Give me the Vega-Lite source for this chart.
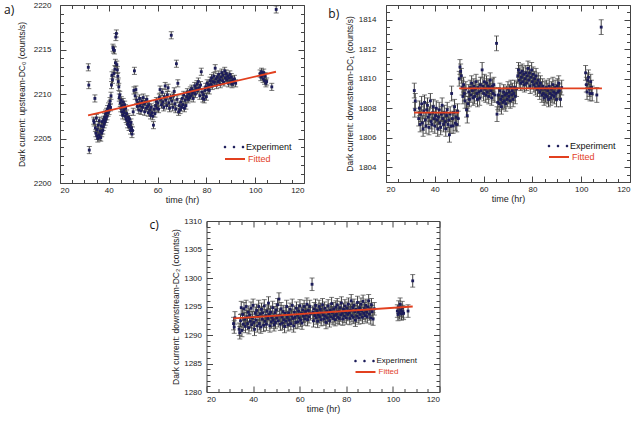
{
"$schema": "https://vega.github.io/schema/vega-lite/v6.json",
"padding": {"left": 3, "top": 0, "right": 0, "bottom": 0},
"background": "white",
"config": {
  "view": {"stroke": "#444", "strokeWidth": 1},
  "axis": {"labelFont": "Liberation Sans", "titleFont": "Liberation Sans", "labelFontSize": 8, "titleFontSize": 8.5, "titleFontWeight": "normal", "labelColor": "#222", "titleColor": "#222", "tickColor": "#444", "tickWidth": 1, "domain": false, "grid": false, "labelPadding": 3, "titlePadding": 3},
  "axisBottom": {"titleFontSize": 9, "titlePadding": 1},
  "legend": {"labelFont": "Liberation Sans", "labelFontSize": 9, "title": null, "orient": "none", "padding": 0, "symbolSize": 400, "labelOffset": 2},
  "title": {"font": "Open Sans", "fontSize": 12, "fontWeight": "normal", "color": "#111"}
},
"datasets": {
"a": [
{"t":31.6,"v":2213.0,"e":0.4},{"t":31.8,"v":2211.0,"e":0.4},{"t":32.0,"v":2203.7,"e":0.4},{"t":33.8,"v":2207.0,"e":0.4},{"t":34.0,"v":2206.8,"e":0.4},{"t":34.3,"v":2209.5,"e":0.4},{"t":34.5,"v":2206.2,"e":0.4},{"t":34.7,"v":2205.6,"e":0.4},{"t":34.9,"v":2207.3,"e":0.4},{"t":35.1,"v":2205.3,"e":0.4},{"t":35.3,"v":2206.0,"e":0.4},{"t":35.5,"v":2205.0,"e":0.4},{"t":35.7,"v":2206.5,"e":0.4},{"t":35.9,"v":2205.4,"e":0.4},{"t":36.1,"v":2207.0,"e":0.4},{"t":36.3,"v":2205.2,"e":0.4},{"t":36.5,"v":2205.8,"e":0.4},{"t":36.7,"v":2205.1,"e":0.4},{"t":36.9,"v":2206.4,"e":0.4},{"t":37.1,"v":2205.6,"e":0.4},{"t":37.3,"v":2206.9,"e":0.4},{"t":37.5,"v":2205.9,"e":0.4},{"t":37.7,"v":2206.3,"e":0.4},{"t":37.9,"v":2207.1,"e":0.4},{"t":38.1,"v":2206.6,"e":0.4},{"t":38.3,"v":2207.4,"e":0.4},{"t":38.5,"v":2206.9,"e":0.4},{"t":38.7,"v":2207.8,"e":0.4},{"t":38.9,"v":2207.2,"e":0.4},{"t":39.1,"v":2208.0,"e":0.4},{"t":39.3,"v":2207.5,"e":0.4},{"t":39.5,"v":2208.3,"e":0.4},{"t":39.7,"v":2207.9,"e":0.4},{"t":39.9,"v":2208.6,"e":0.4},{"t":40.1,"v":2208.1,"e":0.4},{"t":40.3,"v":2208.8,"e":0.4},{"t":40.5,"v":2209.2,"e":0.4},{"t":40.7,"v":2208.5,"e":0.4},{"t":40.9,"v":2209.8,"e":0.4},{"t":41.1,"v":2211.0,"e":0.4},{"t":41.3,"v":2212.1,"e":0.4},{"t":41.5,"v":2211.6,"e":0.4},{"t":41.7,"v":2215.2,"e":0.4},{"t":41.9,"v":2215.0,"e":0.4},{"t":42.1,"v":2212.3,"e":0.4},{"t":42.3,"v":2214.9,"e":0.4},{"t":42.5,"v":2212.8,"e":0.4},{"t":42.7,"v":2213.5,"e":0.4},{"t":42.9,"v":2216.4,"e":0.4},{"t":43.1,"v":2216.8,"e":0.4},{"t":43.3,"v":2213.3,"e":0.4},{"t":43.5,"v":2212.7,"e":0.4},{"t":43.7,"v":2212.0,"e":0.4},{"t":43.9,"v":2211.4,"e":0.4},{"t":44.1,"v":2210.8,"e":0.4},{"t":44.3,"v":2209.6,"e":0.4},{"t":44.5,"v":2209.9,"e":0.4},{"t":44.7,"v":2209.0,"e":0.4},{"t":44.9,"v":2208.4,"e":0.4},{"t":45.1,"v":2209.3,"e":0.4},{"t":45.3,"v":2208.0,"e":0.4},{"t":45.5,"v":2208.7,"e":0.4},{"t":45.7,"v":2207.6,"e":0.4},{"t":45.9,"v":2209.1,"e":0.4},{"t":46.1,"v":2208.2,"e":0.4},{"t":46.3,"v":2207.9,"e":0.4},{"t":46.5,"v":2208.8,"e":0.4},{"t":46.7,"v":2207.5,"e":0.4},{"t":46.9,"v":2208.4,"e":0.4},{"t":47.1,"v":2207.2,"e":0.4},{"t":47.3,"v":2207.8,"e":0.4},{"t":47.5,"v":2207.0,"e":0.4},{"t":47.7,"v":2206.6,"e":0.4},{"t":47.9,"v":2207.4,"e":0.4},{"t":48.1,"v":2206.9,"e":0.4},{"t":48.3,"v":2206.3,"e":0.4},{"t":48.5,"v":2207.2,"e":0.4},{"t":48.7,"v":2206.5,"e":0.4},{"t":48.9,"v":2205.9,"e":0.4},{"t":49.1,"v":2206.8,"e":0.4},{"t":49.3,"v":2206.2,"e":0.4},{"t":49.5,"v":2205.5,"e":0.4},{"t":49.7,"v":2205.9,"e":0.4},{"t":50.0,"v":2208.0,"e":0.4},{"t":50.3,"v":2210.4,"e":0.4},{"t":50.5,"v":2212.6,"e":0.4},{"t":50.8,"v":2209.8,"e":0.4},{"t":51.1,"v":2210.5,"e":0.4},{"t":51.4,"v":2209.3,"e":0.4},{"t":51.7,"v":2208.6,"e":0.4},{"t":52.0,"v":2209.0,"e":0.4},{"t":52.3,"v":2208.2,"e":0.4},{"t":52.6,"v":2209.5,"e":0.4},{"t":52.9,"v":2208.7,"e":0.4},{"t":53.2,"v":2208.1,"e":0.4},{"t":53.5,"v":2209.2,"e":0.4},{"t":53.8,"v":2208.5,"e":0.4},{"t":54.1,"v":2209.6,"e":0.4},{"t":54.4,"v":2208.9,"e":0.4},{"t":54.7,"v":2208.0,"e":0.4},{"t":55.0,"v":2209.1,"e":0.4},{"t":55.3,"v":2208.4,"e":0.4},{"t":55.6,"v":2209.4,"e":0.4},{"t":55.9,"v":2208.6,"e":0.4},{"t":56.2,"v":2207.9,"e":0.4},{"t":56.5,"v":2208.8,"e":0.4},{"t":56.8,"v":2208.2,"e":0.4},{"t":57.1,"v":2207.6,"e":0.4},{"t":57.4,"v":2208.5,"e":0.4},{"t":57.7,"v":2207.9,"e":0.4},{"t":58.0,"v":2207.5,"e":0.4},{"t":58.3,"v":2206.5,"e":0.4},{"t":58.6,"v":2208.3,"e":0.4},{"t":58.9,"v":2207.8,"e":0.4},{"t":59.2,"v":2208.7,"e":0.4},{"t":59.5,"v":2209.2,"e":0.4},{"t":59.8,"v":2208.4,"e":0.4},{"t":60.1,"v":2209.0,"e":0.4},{"t":60.4,"v":2208.3,"e":0.4},{"t":60.7,"v":2209.6,"e":0.4},{"t":61.0,"v":2210.5,"e":0.4},{"t":61.3,"v":2209.4,"e":0.4},{"t":61.6,"v":2208.8,"e":0.4},{"t":61.9,"v":2210.2,"e":0.4},{"t":62.2,"v":2209.1,"e":0.4},{"t":62.5,"v":2208.5,"e":0.4},{"t":62.8,"v":2209.7,"e":0.4},{"t":63.1,"v":2210.9,"e":0.4},{"t":63.4,"v":2209.3,"e":0.4},{"t":63.7,"v":2208.7,"e":0.4},{"t":64.0,"v":2209.9,"e":0.4},{"t":64.3,"v":2210.7,"e":0.4},{"t":64.6,"v":2209.0,"e":0.4},{"t":64.9,"v":2208.4,"e":0.4},{"t":65.3,"v":2209.6,"e":0.4},{"t":65.6,"v":2216.6,"e":0.4},{"t":65.9,"v":2209.2,"e":0.4},{"t":66.2,"v":2208.5,"e":0.4},{"t":66.5,"v":2209.8,"e":0.4},{"t":66.8,"v":2210.3,"e":0.4},{"t":67.1,"v":2208.9,"e":0.4},{"t":67.4,"v":2208.3,"e":0.4},{"t":67.7,"v":2213.4,"e":0.4},{"t":68.0,"v":2209.4,"e":0.4},{"t":68.3,"v":2211.2,"e":0.4},{"t":68.6,"v":2208.0,"e":0.4},{"t":68.9,"v":2208.7,"e":0.4},{"t":69.2,"v":2208.2,"e":0.4},{"t":69.5,"v":2209.1,"e":0.4},{"t":69.8,"v":2208.5,"e":0.4},{"t":70.1,"v":2209.5,"e":0.4},{"t":70.4,"v":2208.8,"e":0.4},{"t":70.7,"v":2209.9,"e":0.4},{"t":71.0,"v":2208.4,"e":0.4},{"t":71.3,"v":2209.3,"e":0.4},{"t":71.6,"v":2208.7,"e":0.4},{"t":71.9,"v":2209.7,"e":0.4},{"t":72.2,"v":2210.2,"e":0.4},{"t":72.5,"v":2209.4,"e":0.4},{"t":72.8,"v":2210.0,"e":0.4},{"t":73.1,"v":2209.6,"e":0.4},{"t":73.4,"v":2210.4,"e":0.4},{"t":73.7,"v":2209.8,"e":0.4},{"t":74.0,"v":2210.6,"e":0.4},{"t":74.3,"v":2210.1,"e":0.4},{"t":74.6,"v":2209.5,"e":0.4},{"t":74.9,"v":2210.3,"e":0.4},{"t":75.2,"v":2210.9,"e":0.4},{"t":75.5,"v":2210.0,"e":0.4},{"t":75.8,"v":2210.6,"e":0.4},{"t":76.1,"v":2211.1,"e":0.4},{"t":76.4,"v":2210.4,"e":0.4},{"t":76.7,"v":2211.4,"e":0.4},{"t":77.0,"v":2210.7,"e":0.4},{"t":77.3,"v":2209.8,"e":0.4},{"t":77.6,"v":2211.0,"e":0.4},{"t":77.9,"v":2212.5,"e":0.4},{"t":78.2,"v":2210.2,"e":0.4},{"t":78.5,"v":2209.5,"e":0.4},{"t":78.8,"v":2209.9,"e":0.4},{"t":79.1,"v":2209.4,"e":0.4},{"t":79.4,"v":2210.4,"e":0.4},{"t":79.7,"v":2210.8,"e":0.4},{"t":80.0,"v":2209.7,"e":0.4},{"t":80.3,"v":2211.2,"e":0.4},{"t":80.6,"v":2210.5,"e":0.4},{"t":80.9,"v":2211.0,"e":0.4},{"t":81.2,"v":2210.4,"e":0.4},{"t":81.5,"v":2211.5,"e":0.4},{"t":81.8,"v":2211.1,"e":0.4},{"t":82.1,"v":2211.8,"e":0.4},{"t":82.4,"v":2210.9,"e":0.4},{"t":82.7,"v":2211.4,"e":0.4},{"t":83.0,"v":2212.0,"e":0.4},{"t":83.3,"v":2211.3,"e":0.4},{"t":83.6,"v":2212.9,"e":0.4},{"t":83.9,"v":2211.7,"e":0.4},{"t":84.2,"v":2211.0,"e":0.4},{"t":84.5,"v":2211.9,"e":0.4},{"t":84.8,"v":2211.4,"e":0.4},{"t":85.1,"v":2212.2,"e":0.4},{"t":85.4,"v":2211.6,"e":0.4},{"t":85.7,"v":2211.1,"e":0.4},{"t":86.0,"v":2211.9,"e":0.4},{"t":86.3,"v":2212.4,"e":0.4},{"t":86.6,"v":2211.5,"e":0.4},{"t":86.9,"v":2212.1,"e":0.4},{"t":87.2,"v":2211.3,"e":0.4},{"t":87.5,"v":2212.6,"e":0.4},{"t":87.8,"v":2211.8,"e":0.4},{"t":88.1,"v":2212.3,"e":0.4},{"t":88.4,"v":2211.6,"e":0.4},{"t":88.7,"v":2212.0,"e":0.4},{"t":89.0,"v":2211.2,"e":0.4},{"t":89.3,"v":2211.8,"e":0.4},{"t":89.6,"v":2212.2,"e":0.4},{"t":89.9,"v":2211.4,"e":0.4},{"t":90.2,"v":2211.9,"e":0.4},{"t":90.5,"v":2211.1,"e":0.4},{"t":90.8,"v":2211.6,"e":0.4},{"t":91.1,"v":2211.3,"e":0.4},{"t":91.5,"v":2211.7,"e":0.4},{"t":92.0,"v":2211.2,"e":0.4},{"t":102.0,"v":2212.3,"e":0.4},{"t":102.3,"v":2211.9,"e":0.4},{"t":102.6,"v":2212.5,"e":0.4},{"t":102.9,"v":2212.1,"e":0.4},{"t":103.2,"v":2211.7,"e":0.4},{"t":103.5,"v":2212.4,"e":0.4},{"t":103.8,"v":2211.5,"e":0.4},{"t":104.1,"v":2212.0,"e":0.4},{"t":104.4,"v":2211.2,"e":0.4},{"t":104.7,"v":2211.4,"e":0.4},{"t":106.8,"v":2210.8,"e":0.4},{"t":108.6,"v":2219.5,"e":0.4}
],
"b": [
{"t":31.6,"v":1809.2,"e":0.5},{"t":31.8,"v":1807.9,"e":0.5},{"t":32.0,"v":1808.5,"e":0.5},{"t":33.4,"v":1807.3,"e":0.5},{"t":33.7,"v":1808.0,"e":0.5},{"t":34.0,"v":1806.9,"e":0.5},{"t":34.3,"v":1807.6,"e":0.5},{"t":34.6,"v":1808.3,"e":0.5},{"t":34.9,"v":1807.0,"e":0.5},{"t":35.2,"v":1806.6,"e":0.5},{"t":35.5,"v":1807.8,"e":0.5},{"t":35.8,"v":1808.4,"e":0.5},{"t":36.1,"v":1807.2,"e":0.5},{"t":36.4,"v":1806.8,"e":0.5},{"t":36.7,"v":1807.9,"e":0.5},{"t":37.0,"v":1808.2,"e":0.5},{"t":37.3,"v":1807.4,"e":0.5},{"t":37.6,"v":1806.7,"e":0.5},{"t":37.9,"v":1807.6,"e":0.5},{"t":38.2,"v":1808.5,"e":0.5},{"t":38.5,"v":1807.1,"e":0.5},{"t":38.8,"v":1806.9,"e":0.5},{"t":39.1,"v":1807.7,"e":0.5},{"t":39.4,"v":1808.1,"e":0.5},{"t":39.7,"v":1807.3,"e":0.5},{"t":40.0,"v":1806.8,"e":0.5},{"t":40.3,"v":1807.5,"e":0.5},{"t":40.6,"v":1808.0,"e":0.5},{"t":40.9,"v":1807.2,"e":0.5},{"t":41.2,"v":1806.6,"e":0.5},{"t":41.5,"v":1807.4,"e":0.5},{"t":41.8,"v":1807.9,"e":0.5},{"t":42.1,"v":1807.0,"e":0.5},{"t":42.4,"v":1806.7,"e":0.5},{"t":42.7,"v":1807.6,"e":0.5},{"t":43.0,"v":1808.2,"e":0.5},{"t":43.3,"v":1807.3,"e":0.5},{"t":43.6,"v":1806.9,"e":0.5},{"t":43.9,"v":1807.7,"e":0.5},{"t":44.2,"v":1807.1,"e":0.5},{"t":44.5,"v":1806.6,"e":0.5},{"t":44.8,"v":1807.5,"e":0.5},{"t":45.1,"v":1807.9,"e":0.5},{"t":45.4,"v":1806.9,"e":0.5},{"t":45.7,"v":1807.2,"e":0.5},{"t":46.0,"v":1806.2,"e":0.5},{"t":46.3,"v":1807.6,"e":0.5},{"t":46.6,"v":1806.8,"e":0.5},{"t":46.9,"v":1809.0,"e":0.5},{"t":47.2,"v":1807.3,"e":0.5},{"t":47.5,"v":1806.8,"e":0.5},{"t":47.8,"v":1807.7,"e":0.5},{"t":48.1,"v":1808.1,"e":0.5},{"t":48.4,"v":1807.0,"e":0.5},{"t":48.7,"v":1807.4,"e":0.5},{"t":49.0,"v":1806.9,"e":0.5},{"t":49.3,"v":1807.8,"e":0.5},{"t":49.6,"v":1807.3,"e":0.5},{"t":50.0,"v":1810.0,"e":0.5},{"t":50.3,"v":1810.8,"e":0.5},{"t":50.6,"v":1810.5,"e":0.5},{"t":50.9,"v":1810.2,"e":0.5},{"t":51.2,"v":1809.4,"e":0.5},{"t":51.5,"v":1808.8,"e":0.5},{"t":51.8,"v":1809.6,"e":0.5},{"t":52.1,"v":1809.0,"e":0.5},{"t":52.4,"v":1808.5,"e":0.5},{"t":52.7,"v":1809.3,"e":0.5},{"t":53.0,"v":1807.9,"e":0.5},{"t":53.3,"v":1807.5,"e":0.5},{"t":53.6,"v":1808.3,"e":0.5},{"t":53.9,"v":1809.1,"e":0.5},{"t":54.2,"v":1808.6,"e":0.5},{"t":54.5,"v":1809.4,"e":0.5},{"t":54.8,"v":1808.9,"e":0.5},{"t":55.1,"v":1809.7,"e":0.5},{"t":55.4,"v":1809.2,"e":0.5},{"t":55.7,"v":1808.7,"e":0.5},{"t":56.0,"v":1809.5,"e":0.5},{"t":56.3,"v":1808.8,"e":0.5},{"t":56.6,"v":1809.3,"e":0.5},{"t":56.9,"v":1809.8,"e":0.5},{"t":57.2,"v":1809.0,"e":0.5},{"t":57.5,"v":1808.6,"e":0.5},{"t":57.8,"v":1809.4,"e":0.5},{"t":58.1,"v":1809.1,"e":0.5},{"t":58.4,"v":1808.7,"e":0.5},{"t":58.7,"v":1809.6,"e":0.5},{"t":59.0,"v":1809.2,"e":0.5},{"t":59.4,"v":1810.6,"e":0.5},{"t":59.7,"v":1809.5,"e":0.5},{"t":60.0,"v":1809.0,"e":0.5},{"t":60.3,"v":1809.8,"e":0.5},{"t":60.6,"v":1809.3,"e":0.5},{"t":60.9,"v":1808.9,"e":0.5},{"t":61.2,"v":1809.7,"e":0.5},{"t":61.5,"v":1809.1,"e":0.5},{"t":61.8,"v":1809.5,"e":0.5},{"t":62.1,"v":1808.8,"e":0.5},{"t":62.4,"v":1809.4,"e":0.5},{"t":62.7,"v":1809.9,"e":0.5},{"t":63.0,"v":1809.2,"e":0.5},{"t":63.3,"v":1808.7,"e":0.5},{"t":63.6,"v":1809.5,"e":0.5},{"t":63.9,"v":1809.0,"e":0.5},{"t":64.2,"v":1809.6,"e":0.5},{"t":64.6,"v":1808.9,"e":0.5},{"t":65.3,"v":1812.4,"e":0.5},{"t":65.5,"v":1807.6,"e":0.5},{"t":65.8,"v":1808.4,"e":0.5},{"t":66.1,"v":1808.9,"e":0.5},{"t":66.4,"v":1808.3,"e":0.5},{"t":66.7,"v":1809.2,"e":0.5},{"t":67.0,"v":1808.6,"e":0.5},{"t":67.3,"v":1808.1,"e":0.5},{"t":67.6,"v":1808.8,"e":0.5},{"t":67.9,"v":1808.4,"e":0.5},{"t":68.2,"v":1809.1,"e":0.5},{"t":68.5,"v":1808.5,"e":0.5},{"t":68.8,"v":1808.9,"e":0.5},{"t":69.1,"v":1808.3,"e":0.5},{"t":69.4,"v":1809.0,"e":0.5},{"t":69.7,"v":1808.6,"e":0.5},{"t":70.0,"v":1809.3,"e":0.5},{"t":70.3,"v":1808.8,"e":0.5},{"t":70.6,"v":1809.1,"e":0.5},{"t":70.9,"v":1808.5,"e":0.5},{"t":71.2,"v":1809.4,"e":0.5},{"t":71.5,"v":1808.9,"e":0.5},{"t":71.8,"v":1809.2,"e":0.5},{"t":72.1,"v":1808.6,"e":0.5},{"t":72.4,"v":1809.0,"e":0.5},{"t":72.7,"v":1809.4,"e":0.5},{"t":73.0,"v":1808.8,"e":0.5},{"t":73.5,"v":1809.3,"e":0.5},{"t":74.0,"v":1810.2,"e":0.5},{"t":74.3,"v":1810.6,"e":0.5},{"t":74.6,"v":1809.9,"e":0.5},{"t":74.9,"v":1810.4,"e":0.5},{"t":75.2,"v":1809.7,"e":0.5},{"t":75.5,"v":1810.1,"e":0.5},{"t":75.8,"v":1810.5,"e":0.5},{"t":76.1,"v":1809.8,"e":0.5},{"t":76.4,"v":1810.3,"e":0.5},{"t":76.7,"v":1809.6,"e":0.5},{"t":77.0,"v":1810.0,"e":0.5},{"t":77.3,"v":1810.4,"e":0.5},{"t":77.6,"v":1809.7,"e":0.5},{"t":77.9,"v":1810.2,"e":0.5},{"t":78.2,"v":1810.7,"e":0.5},{"t":78.5,"v":1809.9,"e":0.5},{"t":78.8,"v":1810.4,"e":0.5},{"t":79.1,"v":1809.5,"e":0.5},{"t":79.4,"v":1810.1,"e":0.5},{"t":79.7,"v":1810.6,"e":0.5},{"t":80.0,"v":1809.8,"e":0.5},{"t":80.3,"v":1810.3,"e":0.5},{"t":80.6,"v":1809.6,"e":0.5},{"t":80.9,"v":1810.0,"e":0.5},{"t":81.2,"v":1809.4,"e":0.5},{"t":81.5,"v":1810.2,"e":0.5},{"t":81.8,"v":1809.7,"e":0.5},{"t":82.1,"v":1809.3,"e":0.5},{"t":82.4,"v":1809.9,"e":0.5},{"t":82.7,"v":1809.5,"e":0.5},{"t":83.0,"v":1809.1,"e":0.5},{"t":83.3,"v":1809.7,"e":0.5},{"t":83.6,"v":1809.3,"e":0.5},{"t":83.9,"v":1808.9,"e":0.5},{"t":84.2,"v":1809.5,"e":0.5},{"t":84.5,"v":1809.0,"e":0.5},{"t":84.8,"v":1808.7,"e":0.5},{"t":85.1,"v":1809.3,"e":0.5},{"t":85.4,"v":1808.9,"e":0.5},{"t":85.7,"v":1809.4,"e":0.5},{"t":86.0,"v":1808.8,"e":0.5},{"t":86.3,"v":1809.2,"e":0.5},{"t":86.6,"v":1808.6,"e":0.5},{"t":86.9,"v":1809.5,"e":0.5},{"t":87.2,"v":1809.0,"e":0.5},{"t":87.5,"v":1808.7,"e":0.5},{"t":87.8,"v":1809.3,"e":0.5},{"t":88.1,"v":1808.9,"e":0.5},{"t":88.4,"v":1809.6,"e":0.5},{"t":88.7,"v":1809.1,"e":0.5},{"t":89.0,"v":1808.8,"e":0.5},{"t":89.3,"v":1809.4,"e":0.5},{"t":89.6,"v":1809.0,"e":0.5},{"t":89.9,"v":1808.6,"e":0.5},{"t":90.2,"v":1809.5,"e":0.5},{"t":90.5,"v":1809.1,"e":0.5},{"t":90.8,"v":1809.7,"e":0.5},{"t":91.1,"v":1809.2,"e":0.5},{"t":91.5,"v":1808.6,"e":0.5},{"t":92.0,"v":1809.4,"e":0.5},{"t":101.8,"v":1810.4,"e":0.5},{"t":102.1,"v":1809.6,"e":0.5},{"t":102.4,"v":1809.1,"e":0.5},{"t":102.7,"v":1809.9,"e":0.5},{"t":103.0,"v":1810.1,"e":0.5},{"t":103.3,"v":1809.3,"e":0.5},{"t":103.6,"v":1809.0,"e":0.5},{"t":103.9,"v":1809.8,"e":0.5},{"t":104.2,"v":1809.4,"e":0.5},{"t":104.5,"v":1809.0,"e":0.5},{"t":106.4,"v":1808.9,"e":0.5},{"t":108.2,"v":1813.5,"e":0.5}
],
"c": [
{"t":31.6,"v":1292.0,"e":1.1},{"t":31.9,"v":1291.4,"e":1.1},{"t":32.2,"v":1293.0,"e":1.1},{"t":34.0,"v":1291.0,"e":1.1},{"t":34.3,"v":1290.4,"e":1.1},{"t":34.6,"v":1292.5,"e":1.1},{"t":34.9,"v":1294.8,"e":1.1},{"t":35.2,"v":1290.8,"e":1.1},{"t":35.5,"v":1293.6,"e":1.1},{"t":35.8,"v":1291.9,"e":1.1},{"t":36.1,"v":1294.6,"e":1.1},{"t":36.4,"v":1292.8,"e":1.1},{"t":36.7,"v":1291.5,"e":1.1},{"t":37.0,"v":1295.0,"e":1.1},{"t":37.3,"v":1293.2,"e":1.1},{"t":37.6,"v":1292.0,"e":1.1},{"t":37.9,"v":1294.0,"e":1.1},{"t":38.2,"v":1291.3,"e":1.1},{"t":38.5,"v":1293.5,"e":1.1},{"t":38.8,"v":1292.4,"e":1.1},{"t":39.1,"v":1294.7,"e":1.1},{"t":39.4,"v":1291.8,"e":1.1},{"t":39.7,"v":1293.0,"e":1.1},{"t":40.0,"v":1295.2,"e":1.1},{"t":40.3,"v":1292.2,"e":1.1},{"t":40.6,"v":1291.0,"e":1.1},{"t":40.9,"v":1293.8,"e":1.1},{"t":41.2,"v":1292.6,"e":1.1},{"t":41.5,"v":1294.3,"e":1.1},{"t":41.8,"v":1291.6,"e":1.1},{"t":42.1,"v":1293.3,"e":1.1},{"t":42.4,"v":1295.0,"e":1.1},{"t":42.7,"v":1292.0,"e":1.1},{"t":43.0,"v":1293.7,"e":1.1},{"t":43.3,"v":1291.4,"e":1.1},{"t":43.6,"v":1294.5,"e":1.1},{"t":43.9,"v":1292.8,"e":1.1},{"t":44.2,"v":1293.9,"e":1.1},{"t":44.5,"v":1291.7,"e":1.1},{"t":44.8,"v":1295.1,"e":1.1},{"t":45.1,"v":1292.4,"e":1.1},{"t":45.4,"v":1293.4,"e":1.1},{"t":45.7,"v":1291.9,"e":1.1},{"t":46.0,"v":1294.2,"e":1.1},{"t":46.3,"v":1292.9,"e":1.1},{"t":46.6,"v":1295.6,"e":1.1},{"t":46.9,"v":1293.6,"e":1.1},{"t":47.2,"v":1291.6,"e":1.1},{"t":47.5,"v":1294.0,"e":1.1},{"t":47.8,"v":1292.3,"e":1.1},{"t":48.1,"v":1293.1,"e":1.1},{"t":48.4,"v":1294.8,"e":1.1},{"t":48.7,"v":1292.6,"e":1.1},{"t":49.0,"v":1291.8,"e":1.1},{"t":49.3,"v":1293.9,"e":1.1},{"t":49.6,"v":1292.2,"e":1.1},{"t":49.9,"v":1294.4,"e":1.1},{"t":50.2,"v":1293.0,"e":1.1},{"t":50.5,"v":1295.3,"e":1.1},{"t":50.8,"v":1292.5,"e":1.1},{"t":51.1,"v":1296.3,"e":1.1},{"t":51.4,"v":1293.5,"e":1.1},{"t":51.7,"v":1291.9,"e":1.1},{"t":52.0,"v":1294.6,"e":1.1},{"t":52.3,"v":1293.2,"e":1.1},{"t":52.6,"v":1292.1,"e":1.1},{"t":52.9,"v":1294.1,"e":1.1},{"t":53.2,"v":1292.7,"e":1.1},{"t":53.5,"v":1291.5,"e":1.1},{"t":53.8,"v":1293.8,"e":1.1},{"t":54.1,"v":1292.4,"e":1.1},{"t":54.4,"v":1295.0,"e":1.1},{"t":54.7,"v":1293.1,"e":1.1},{"t":55.0,"v":1291.8,"e":1.1},{"t":55.3,"v":1293.9,"e":1.1},{"t":55.6,"v":1292.6,"e":1.1},{"t":55.9,"v":1294.5,"e":1.1},{"t":56.2,"v":1292.0,"e":1.1},{"t":56.5,"v":1293.4,"e":1.1},{"t":56.8,"v":1295.2,"e":1.1},{"t":57.1,"v":1292.9,"e":1.1},{"t":57.4,"v":1291.6,"e":1.1},{"t":57.7,"v":1294.0,"e":1.1},{"t":58.0,"v":1293.1,"e":1.1},{"t":58.3,"v":1292.2,"e":1.1},{"t":58.6,"v":1294.7,"e":1.1},{"t":58.9,"v":1293.5,"e":1.1},{"t":59.2,"v":1292.3,"e":1.1},{"t":59.5,"v":1294.2,"e":1.1},{"t":59.8,"v":1293.0,"e":1.1},{"t":60.1,"v":1295.1,"e":1.1},{"t":60.4,"v":1292.6,"e":1.1},{"t":60.7,"v":1293.8,"e":1.1},{"t":61.0,"v":1292.1,"e":1.1},{"t":61.3,"v":1294.4,"e":1.1},{"t":61.6,"v":1293.3,"e":1.1},{"t":61.9,"v":1295.0,"e":1.1},{"t":62.2,"v":1292.8,"e":1.1},{"t":62.5,"v":1294.1,"e":1.1},{"t":62.8,"v":1293.5,"e":1.1},{"t":63.1,"v":1295.4,"e":1.1},{"t":63.4,"v":1292.7,"e":1.1},{"t":63.7,"v":1294.3,"e":1.1},{"t":64.0,"v":1293.2,"e":1.1},{"t":64.3,"v":1295.0,"e":1.1},{"t":64.6,"v":1293.7,"e":1.1},{"t":65.3,"v":1298.9,"e":1.1},{"t":65.6,"v":1294.0,"e":1.1},{"t":65.9,"v":1292.5,"e":1.1},{"t":66.2,"v":1294.6,"e":1.1},{"t":66.5,"v":1293.4,"e":1.1},{"t":66.8,"v":1295.2,"e":1.1},{"t":67.1,"v":1293.0,"e":1.1},{"t":67.4,"v":1294.3,"e":1.1},{"t":67.7,"v":1292.4,"e":1.1},{"t":68.0,"v":1293.6,"e":1.1},{"t":68.3,"v":1295.0,"e":1.1},{"t":68.6,"v":1293.2,"e":1.1},{"t":68.9,"v":1294.5,"e":1.1},{"t":69.2,"v":1292.7,"e":1.1},{"t":69.5,"v":1293.9,"e":1.1},{"t":69.8,"v":1295.3,"e":1.1},{"t":70.1,"v":1293.5,"e":1.1},{"t":70.4,"v":1292.8,"e":1.1},{"t":70.7,"v":1294.7,"e":1.1},{"t":71.0,"v":1293.3,"e":1.1},{"t":71.3,"v":1292.2,"e":1.1},{"t":71.6,"v":1294.2,"e":1.1},{"t":71.9,"v":1293.0,"e":1.1},{"t":72.2,"v":1295.1,"e":1.1},{"t":72.5,"v":1293.7,"e":1.1},{"t":72.8,"v":1292.5,"e":1.1},{"t":73.1,"v":1294.4,"e":1.1},{"t":73.4,"v":1293.2,"e":1.1},{"t":73.7,"v":1295.5,"e":1.1},{"t":74.0,"v":1293.9,"e":1.1},{"t":74.3,"v":1292.9,"e":1.1},{"t":74.6,"v":1294.6,"e":1.1},{"t":74.9,"v":1293.4,"e":1.1},{"t":75.2,"v":1292.7,"e":1.1},{"t":75.5,"v":1294.9,"e":1.1},{"t":75.8,"v":1293.6,"e":1.1},{"t":76.1,"v":1295.3,"e":1.1},{"t":76.4,"v":1293.1,"e":1.1},{"t":76.7,"v":1294.2,"e":1.1},{"t":77.0,"v":1292.9,"e":1.1},{"t":77.3,"v":1294.8,"e":1.1},{"t":77.6,"v":1293.5,"e":1.1},{"t":77.9,"v":1295.6,"e":1.1},{"t":78.2,"v":1293.8,"e":1.1},{"t":78.5,"v":1292.8,"e":1.1},{"t":78.8,"v":1294.5,"e":1.1},{"t":79.1,"v":1293.3,"e":1.1},{"t":79.4,"v":1295.1,"e":1.1},{"t":79.7,"v":1294.0,"e":1.1},{"t":80.0,"v":1293.0,"e":1.1},{"t":80.3,"v":1294.7,"e":1.1},{"t":80.6,"v":1293.6,"e":1.1},{"t":80.9,"v":1295.4,"e":1.1},{"t":81.2,"v":1293.9,"e":1.1},{"t":81.5,"v":1292.9,"e":1.1},{"t":81.8,"v":1294.3,"e":1.1},{"t":82.1,"v":1296.0,"e":1.1},{"t":82.4,"v":1293.4,"e":1.1},{"t":82.7,"v":1294.8,"e":1.1},{"t":83.0,"v":1293.1,"e":1.1},{"t":83.3,"v":1295.2,"e":1.1},{"t":83.6,"v":1294.1,"e":1.1},{"t":83.9,"v":1292.6,"e":1.1},{"t":84.2,"v":1294.5,"e":1.1},{"t":84.5,"v":1293.3,"e":1.1},{"t":84.8,"v":1295.7,"e":1.1},{"t":85.1,"v":1294.0,"e":1.1},{"t":85.4,"v":1293.0,"e":1.1},{"t":85.7,"v":1294.8,"e":1.1},{"t":86.0,"v":1293.6,"e":1.1},{"t":86.3,"v":1295.4,"e":1.1},{"t":86.6,"v":1294.2,"e":1.1},{"t":86.9,"v":1293.1,"e":1.1},{"t":87.2,"v":1295.9,"e":1.1},{"t":87.5,"v":1293.8,"e":1.1},{"t":87.8,"v":1294.6,"e":1.1},{"t":88.1,"v":1293.4,"e":1.1},{"t":88.4,"v":1295.2,"e":1.1},{"t":88.7,"v":1294.0,"e":1.1},{"t":89.0,"v":1293.2,"e":1.1},{"t":89.3,"v":1294.9,"e":1.1},{"t":89.6,"v":1296.0,"e":1.1},{"t":89.9,"v":1293.7,"e":1.1},{"t":90.2,"v":1294.5,"e":1.1},{"t":90.5,"v":1293.0,"e":1.1},{"t":90.8,"v":1295.3,"e":1.1},{"t":91.1,"v":1294.1,"e":1.1},{"t":91.5,"v":1292.8,"e":1.1},{"t":92.0,"v":1294.6,"e":1.1},{"t":101.9,"v":1294.2,"e":1.1},{"t":102.2,"v":1293.6,"e":1.1},{"t":102.5,"v":1294.9,"e":1.1},{"t":102.8,"v":1293.9,"e":1.1},{"t":103.1,"v":1295.4,"e":1.1},{"t":103.4,"v":1294.3,"e":1.1},{"t":103.7,"v":1293.7,"e":1.1},{"t":104.0,"v":1294.8,"e":1.1},{"t":104.3,"v":1294.1,"e":1.1},{"t":104.6,"v":1293.8,"e":1.1},{"t":106.5,"v":1294.2,"e":1.1},{"t":108.5,"v":1299.5,"e":1.1}
],
"fa": [{"t":31.5,"v":2207.6,"g":1},{"t":108.5,"v":2212.5,"g":1}],
"fb": [{"t":31.5,"v":1807.7,"g":1},{"t":50.0,"v":1807.7,"g":1},{"t":50.0,"v":1809.35,"g":2},{"t":108.5,"v":1809.35,"g":2}],
"fc": [{"t":31.5,"v":1292.9,"g":1},{"t":108.5,"v":1295.0,"g":1}]
},
"vconcat": [
 {
  "hconcat": [
   {
    "width": 244, "height": 178,
    "title": {"text": "a)", "orient": "left", "anchor": "end", "angle": 0, "align": "left", "baseline": "top", "offset": 3, "dy": 4},
    "data": {"name": "a"},
    "layer": [
     {"mark": {"type": "errorbar", "color": "#404040", "ticks": {"size": 5}},
      "encoding": {
       "x": {"field": "t", "type": "quantitative", "scale": {"domain": [20, 120], "nice": false, "zero": false},
        "axis": {"orient": "bottom", "title": "time (hr)", "values": [20,40,60,80,100,120], "format": "d", "offset": -6, "tickSize": 6}},
       "y": {"field": "v", "type": "quantitative", "scale": {"domain": [2200, 2220], "nice": false, "zero": false},
        "axis": {"orient": "left", "title": "Dark current: upstream-DC₀ (counts/s)", "values": [2200,2205,2210,2215,2220], "format": "d", "offset": -6, "tickSize": 6, "labelPadding": 9, "titlePadding": 7}},
       "yError": {"field": "e"}
      }},
     {"mark": {"type": "point", "filled": true, "shape": "square", "size": 8, "opacity": 1},
      "encoding": {
       "x": {"field": "t", "type": "quantitative", "axis": {"orient": "top", "title": null, "labels": false, "values": [20,40,60,80,100,120], "offset": -6, "tickSize": 6}},
       "y": {"field": "v", "type": "quantitative", "axis": {"orient": "right", "title": null, "labels": false, "values": [2200,2205,2210,2215,2220], "offset": -6, "tickSize": 6}},
       "fill": {"datum": "Experiment", "type": "nominal", "scale": {"range": ["#1c1c5a"]},
        "legend": {"legendX": 164, "legendY": 132, "labelColor": "#111", "symbolType": "M-1.03,0a0.13,0.13 0 1,0 0.26,0a0.13,0.13 0 1,0 -0.26,0M-0.13,0a0.13,0.13 0 1,0 0.26,0a0.13,0.13 0 1,0 -0.26,0M0.77,0a0.13,0.13 0 1,0 0.26,0a0.13,0.13 0 1,0 -0.26,0", "symbolStrokeWidth": 0}}
      }},
     {"data": {"name": "fa"}, "mark": {"type": "line", "strokeWidth": 1.8},
      "encoding": {
       "x": {"field": "t", "type": "quantitative", "axis": {"orient": "bottom", "title": null, "labels": false, "values": [25,30,35,45,50,55,65,70,75,85,90,95,105,110,115], "offset": -3.5, "tickSize": 3.5}},
       "y": {"field": "v", "type": "quantitative", "axis": {"orient": "left", "title": null, "labels": false, "values": [2201,2202,2203,2204,2206,2207,2208,2209,2211,2212,2213,2214,2216,2217,2218,2219], "offset": -3.5, "tickSize": 3.5}},
       "detail": {"field": "g"},
       "stroke": {"datum": "Fitted", "type": "nominal", "scale": {"range": ["#e2401f"]},
        "legend": {"legendX": 164, "legendY": 143, "labelColor": "#e2401f", "symbolType": "M-1,0H1", "symbolStrokeWidth": 2}}
      }},
     {"mark": {"type": "point", "opacity": 0},
      "encoding": {
       "x": {"field": "t", "type": "quantitative", "axis": {"orient": "top", "title": null, "labels": false, "values": [25,30,35,45,50,55,65,70,75,85,90,95,105,110,115], "offset": -3.5, "tickSize": 3.5}},
       "y": {"field": "v", "type": "quantitative", "axis": {"orient": "right", "title": null, "labels": false, "values": [2201,2202,2203,2204,2206,2207,2208,2209,2211,2212,2213,2214,2216,2217,2218,2219], "offset": -3.5, "tickSize": 3.5}}
      }}
    ],
    "resolve": {"axis": {"x": "independent", "y": "independent"}}
   },
   {
    "width": 244, "height": 177,
    "title": {"text": "b)", "orient": "left", "anchor": "end", "angle": 0, "align": "left", "baseline": "top", "offset": 6, "dy": 4},
    "data": {"name": "b"},
    "layer": [
     {"mark": {"type": "errorbar", "color": "#404040", "ticks": {"size": 5}},
      "encoding": {
       "x": {"field": "t", "type": "quantitative", "scale": {"domain": [20, 120], "nice": false, "zero": false},
        "axis": {"orient": "bottom", "title": "time (hr)", "values": [20,40,60,80,100,120], "format": "d", "offset": -6, "tickSize": 6}},
       "y": {"field": "v", "type": "quantitative", "scale": {"domain": [1803, 1815], "nice": false, "zero": false},
        "axis": {"orient": "left", "title": "Dark current: downstream-DC₁ (counts/s)", "values": [1804,1806,1808,1810,1812,1814], "format": "d", "offset": -6, "tickSize": 6, "labelPadding": 10, "titlePadding": 4}},
       "yError": {"field": "e"}
      }},
     {"mark": {"type": "point", "filled": true, "shape": "square", "size": 8, "opacity": 1},
      "encoding": {
       "x": {"field": "t", "type": "quantitative", "axis": {"orient": "top", "title": null, "labels": false, "values": [20,40,60,80,100,120], "offset": -6, "tickSize": 6}},
       "y": {"field": "v", "type": "quantitative", "axis": {"orient": "right", "title": null, "labels": false, "values": [1804,1806,1808,1810,1812,1814], "offset": -6, "tickSize": 6}},
       "fill": {"datum": "Experiment", "type": "nominal", "scale": {"range": ["#1c1c5a"]},
        "legend": {"legendX": 162, "legendY": 131, "labelColor": "#111", "symbolType": "M-1.03,0a0.13,0.13 0 1,0 0.26,0a0.13,0.13 0 1,0 -0.26,0M-0.13,0a0.13,0.13 0 1,0 0.26,0a0.13,0.13 0 1,0 -0.26,0M0.77,0a0.13,0.13 0 1,0 0.26,0a0.13,0.13 0 1,0 -0.26,0", "symbolStrokeWidth": 0}}
      }},
     {"data": {"name": "fb"}, "mark": {"type": "line", "strokeWidth": 1.8},
      "encoding": {
       "x": {"field": "t", "type": "quantitative", "axis": {"orient": "bottom", "title": null, "labels": false, "values": [25,30,35,45,50,55,65,70,75,85,90,95,105,110,115], "offset": -3.5, "tickSize": 3.5}},
       "y": {"field": "v", "type": "quantitative", "axis": {"orient": "left", "title": null, "labels": false, "values": [1803,1803.5,1804.5,1805,1805.5,1806.5,1807,1807.5,1808.5,1809,1809.5,1810.5,1811,1811.5,1812.5,1813,1813.5,1814.5,1815], "offset": -3.5, "tickSize": 3.5}},
       "detail": {"field": "g"},
       "stroke": {"datum": "Fitted", "type": "nominal", "scale": {"range": ["#e2401f"]},
        "legend": {"legendX": 162, "legendY": 141, "labelColor": "#e2401f", "symbolType": "M-1,0H1", "symbolStrokeWidth": 2}}
      }},
     {"mark": {"type": "point", "opacity": 0},
      "encoding": {
       "x": {"field": "t", "type": "quantitative", "axis": {"orient": "top", "title": null, "labels": false, "values": [25,30,35,45,50,55,65,70,75,85,90,95,105,110,115], "offset": -3.5, "tickSize": 3.5}},
       "y": {"field": "v", "type": "quantitative", "axis": {"orient": "right", "title": null, "labels": false, "values": [1803,1803.5,1804.5,1805,1805.5,1806.5,1807,1807.5,1808.5,1809,1809.5,1810.5,1811,1811.5,1812.5,1813,1813.5,1814.5,1815], "offset": -3.5, "tickSize": 3.5}}
      }}
    ],
    "resolve": {"axis": {"x": "independent", "y": "independent"}}
   }
  ],
  "spacing": 82,
  "bounds": "flush",
  "resolve": {"scale": {"fill": "independent", "stroke": "independent"}, "legend": {"fill": "independent", "stroke": "independent"}}
 },
 {
  "width": 233, "height": 171,
  "title": {"text": "c)", "orient": "left", "anchor": "end", "angle": 0, "align": "left", "baseline": "top", "offset": 13, "dy": 3},
  "data": {"name": "c"},
  "layer": [
   {"mark": {"type": "errorbar", "color": "#404040", "ticks": {"size": 5}},
    "encoding": {
     "x": {"field": "t", "type": "quantitative", "scale": {"domain": [20, 120], "nice": false, "zero": false},
      "axis": {"orient": "bottom", "title": "time (hr)", "values": [20,40,60,80,100,120], "format": "d", "offset": -6, "tickSize": 6}},
     "y": {"field": "v", "type": "quantitative", "scale": {"domain": [1280, 1310], "nice": false, "zero": false},
      "axis": {"orient": "left", "title": "Dark current: downstream-DC₂ (counts/s)", "values": [1280,1285,1290,1295,1300,1305,1310], "format": "d", "offset": -6, "tickSize": 6, "labelPadding": 5, "titlePadding": 3}},
     "yError": {"field": "e"}
    }},
   {"mark": {"type": "point", "filled": true, "shape": "square", "size": 8, "opacity": 1},
    "encoding": {
     "x": {"field": "t", "type": "quantitative", "axis": {"orient": "top", "title": null, "labels": false, "values": [20,40,60,80,100,120], "offset": -6, "tickSize": 6}},
     "y": {"field": "v", "type": "quantitative", "axis": {"orient": "right", "title": " ", "titlePadding": 35, "labels": false, "values": [1280,1285,1290,1295,1300,1305,1310], "offset": -6, "tickSize": 6}},
     "fill": {"datum": "Experiment", "type": "nominal", "scale": {"range": ["#1c1c5a"]},
      "legend": {"legendX": 148, "legendY": 130, "labelColor": "#111", "labelFontSize": 8, "symbolType": "M-1.03,0a0.13,0.13 0 1,0 0.26,0a0.13,0.13 0 1,0 -0.26,0M-0.13,0a0.13,0.13 0 1,0 0.26,0a0.13,0.13 0 1,0 -0.26,0M0.77,0a0.13,0.13 0 1,0 0.26,0a0.13,0.13 0 1,0 -0.26,0", "symbolStrokeWidth": 0}}
    }},
   {"data": {"name": "fc"}, "mark": {"type": "line", "strokeWidth": 1.8},
    "encoding": {
     "x": {"field": "t", "type": "quantitative", "axis": {"orient": "bottom", "title": null, "labels": false, "values": [25,30,35,45,50,55,65,70,75,85,90,95,105,110,115], "offset": -3.5, "tickSize": 3.5}},
     "y": {"field": "v", "type": "quantitative", "axis": {"orient": "left", "title": null, "labels": false, "values": [1281,1282,1283,1284,1286,1287,1288,1289,1291,1292,1293,1294,1296,1297,1298,1299,1301,1302,1303,1304,1306,1307,1308,1309], "offset": -3.5, "tickSize": 3.5}},
     "detail": {"field": "g"},
     "stroke": {"datum": "Fitted", "type": "nominal", "scale": {"range": ["#e2401f"]},
      "legend": {"legendX": 148, "legendY": 140, "labelColor": "#e2401f", "labelFontSize": 8, "symbolType": "M-1,0H1", "symbolStrokeWidth": 2}}
    }},
   {"mark": {"type": "point", "opacity": 0},
    "encoding": {
     "x": {"field": "t", "type": "quantitative", "axis": {"orient": "top", "title": null, "labels": false, "values": [25,30,35,45,50,55,65,70,75,85,90,95,105,110,115], "offset": -3.5, "tickSize": 3.5}},
     "y": {"field": "v", "type": "quantitative", "axis": {"orient": "right", "title": null, "labels": false, "values": [1281,1282,1283,1284,1286,1287,1288,1289,1291,1292,1293,1294,1296,1297,1298,1299,1301,1302,1303,1304,1306,1307,1308,1309], "offset": -3.5, "tickSize": 3.5}}
    }}
  ],
  "resolve": {"axis": {"x": "independent", "y": "independent"}}
 }
],
"spacing": 11,
"center": true,
"resolve": {"scale": {"fill": "independent", "stroke": "independent"}, "legend": {"fill": "independent", "stroke": "independent"}}
}
